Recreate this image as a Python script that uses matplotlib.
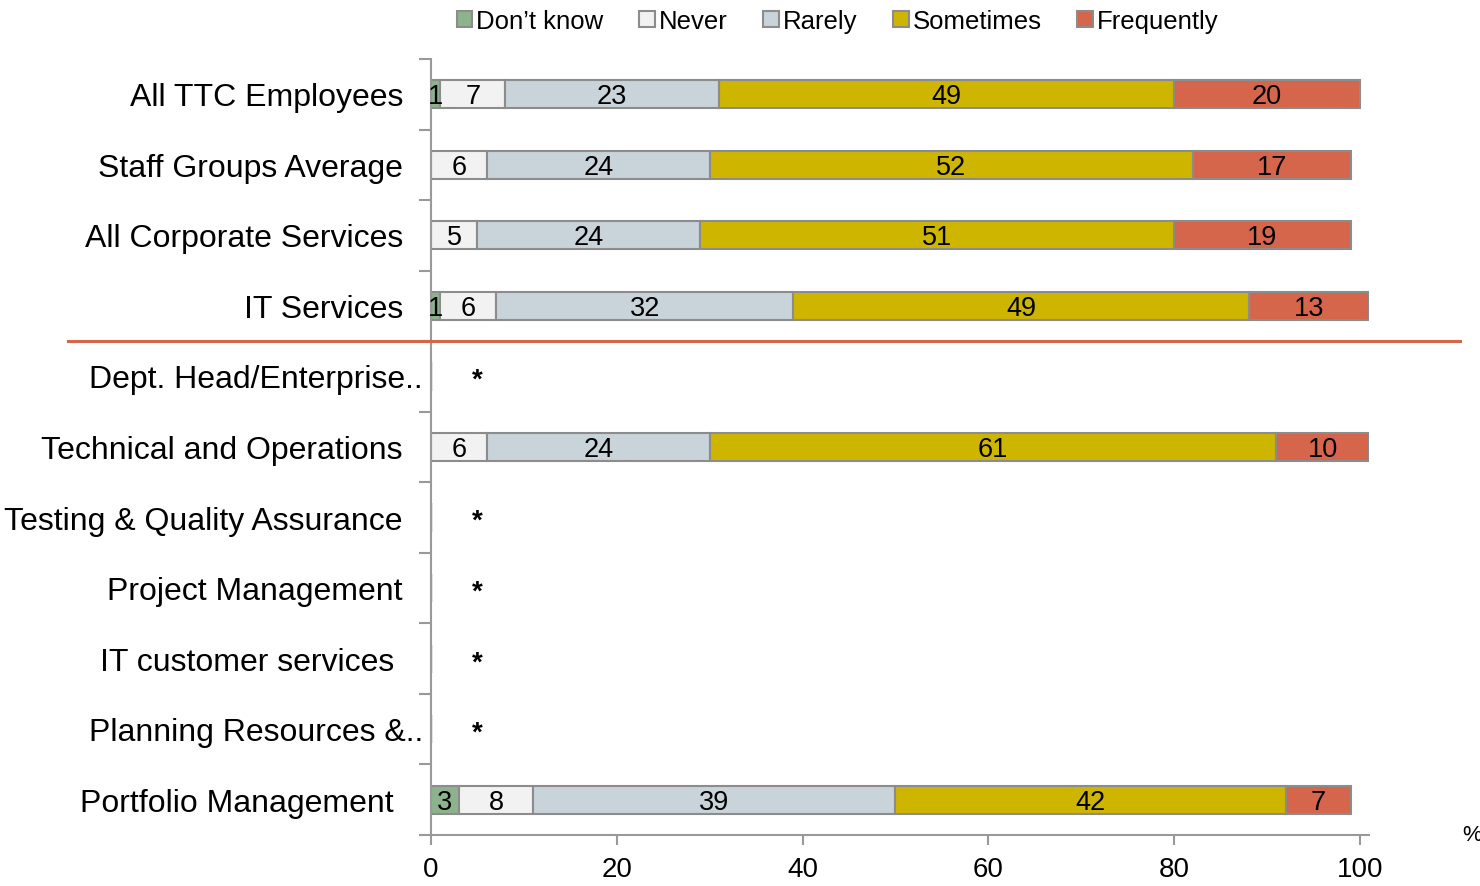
import numpy as np
import matplotlib.pyplot as plt
from matplotlib.patches import Patch
from matplotlib.lines import Line2D

plt.rcParams['font.family'] = ['Liberation Sans', 'DejaVu Sans']

# Survey groups, top to bottom
groups = ['All TTC Employees', 'Staff Groups Average', 'All Corporate Services',
          'IT Services', 'Dept. Head/Enterprise..', 'Technical and Operations',
          'Testing & Quality Assurance', 'Project Management',
          'IT customer services', 'Planning Resources &..', 'Portfolio Management']

answers = ['Don\u2019t know', 'Never', 'Rarely', 'Sometimes', 'Frequently']
colors = ['#8db38c', '#f2f2f2', '#c8d3da', '#cdb500', '#d5654b']

# percentages per answer (0 = no answer shown), nan = too few responses
dont_know  = [1, 0, 0, 1, np.nan, 0, np.nan, np.nan, np.nan, np.nan, 3]
never      = [7, 6, 5, 6, np.nan, 6, np.nan, np.nan, np.nan, np.nan, 8]
rarely     = [23, 24, 24, 32, np.nan, 24, np.nan, np.nan, np.nan, np.nan, 39]
sometimes  = [49, 52, 51, 49, np.nan, 61, np.nan, np.nan, np.nan, np.nan, 42]
frequently = [20, 17, 19, 13, np.nan, 10, np.nan, np.nan, np.nan, np.nan, 7]
series = [dont_know, never, rarely, sometimes, frequently]

fig = plt.figure(figsize=(14.8, 8.87), dpi=100)
ax = fig.add_axes([0.2912, 0.0575, 0.6340, 0.8749])

y = np.arange(len(groups))
left = np.zeros(len(groups))
for vals, col in zip(series, colors):
    v = np.nan_to_num(np.array(vals, dtype=float))
    ax.barh(y, v, left=left, height=0.4, color=col, edgecolor='#8c8c8c', linewidth=1.5)
    for yi, (l, w) in enumerate(zip(left, v)):
        if w > 0:
            ax.text(l + w / 2, yi + 0.03, f'{w:.0f}', ha='center', va='center', fontsize=19.5)
    left += v

# groups with too few responses get an asterisk
for yi, vals in enumerate(dont_know):
    if np.isnan(vals):
        ax.text(5, yi + 0.05, '*', ha='center', va='center', fontsize=20, fontweight='bold')

ax.set_xlim(0, 101)
ax.set_ylim(len(groups) - 0.5, -0.5)
ax.set_xticks([0, 20, 40, 60, 80, 100])
ax.tick_params(axis='x', labelsize=20, length=7, width=1.5, color='#999999', pad=8)
ax.set_yticks(np.arange(len(groups) + 1) - 0.5)
ax.set_yticklabels([])
ax.tick_params(axis='y', length=9, width=1.5, color='#999999')
for s in ['top', 'right']:
    ax.spines[s].set_visible(False)
for s in ['left', 'bottom']:
    ax.spines[s].set_color('#999999')
    ax.spines[s].set_linewidth(1.5)

# group names, right aligned next to the axis
shift = {'Dept. Head/Enterprise..': 20, 'Planning Resources &..': 20,
         'IT customer services': -9, 'Portfolio Management': -9}
for yi, name in enumerate(groups):
    ax.annotate(name, xy=(0, yi), xycoords=('axes fraction', 'data'),
                xytext=(-28 + shift.get(name, 0), -3), textcoords='offset pixels',
                ha='right', va='center', fontsize=23)

# separator between summary rows and departments
fig.add_artist(Line2D([68 / 1480, 1460 / 1480], [1 - 342 / 887, 1 - 342 / 887],
                      color='#d5654b', linewidth=2.2))

fig.text(1462 / 1480, 1 - 836 / 887, '%', fontsize=16, va='center')

handles = [Patch(facecolor=c, edgecolor='#8c8c8c', linewidth=1.5) for c in colors]
fig.legend(handles, answers, loc='center', bbox_to_anchor=(0.566, 0.975), ncol=5,
           frameon=False, handlelength=0.6, handleheight=0.6, handletextpad=0.15,
           columnspacing=1.4, prop={'size': 18.5})

fig.savefig('out.png', dpi=100)
